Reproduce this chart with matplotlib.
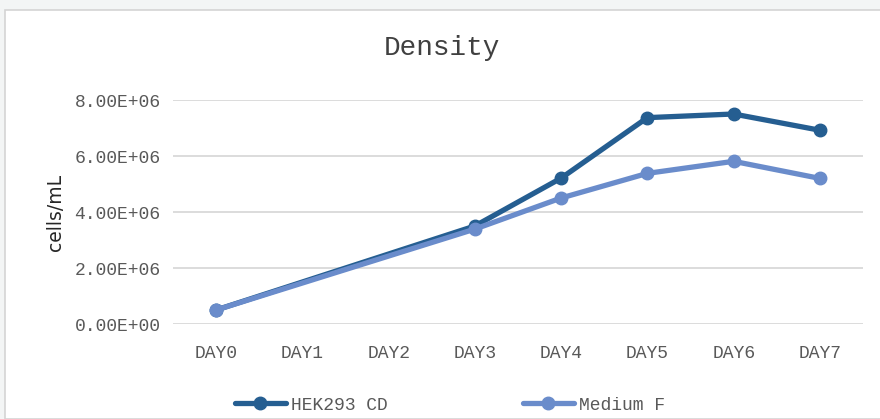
import matplotlib
matplotlib.use("Agg")
import matplotlib.pyplot as plt
from matplotlib.patches import Rectangle
import numpy as np

days = ["DAY0", "DAY1", "DAY2", "DAY3", "DAY4", "DAY5", "DAY6", "DAY7"]
hek293_cd = [0.5e6, None, None, 3.5e6, 5.21e6, 7.37e6, 7.5e6, 6.92e6]
medium_f = [0.5e6, None, None, 3.39e6, 4.5e6, 5.38e6, 5.81e6, 5.2e6]
yticks = [0, 2e6, 4e6, 6e6, 8e6]
ytick_labels = ["0.00E+00", "2.00E+06", "4.00E+06", "6.00E+06", "8.00E+06"]

W, H = 880, 419
fig = plt.figure(figsize=(W / 100, H / 100), dpi=100, facecolor="#f3f5f5")
bg = Rectangle((5 / W, 0), 1, (H - 10) / H, transform=fig.transFigure,
               facecolor="white", edgecolor="#d4d4d4", linewidth=1.2, zorder=-10)
fig.patches.append(bg)

ax = fig.add_axes([173 / W, (H - 324) / H, (863 - 173) / W, 224 / H])
ax.set_facecolor("none")
ax.set_zorder(5)

mono = "Liberation Mono"
dark = "#255e91"
light = "#6a8ccb"

def pts(vals):
    xs = [i for i, v in enumerate(vals) if v is not None]
    ys = [v for v in vals if v is not None]
    return xs, ys

x1, y1 = pts(hek293_cd)
x2, y2 = pts(medium_f)
ax.plot(x1, y1, color=dark, lw=3.8, marker="o", ms=9, label="HEK293 CD",
        solid_capstyle="round", zorder=3)
ax.plot(x2, y2, color=light, lw=3.8, marker="o", ms=9, label="Medium F",
        solid_capstyle="round", zorder=4)

ax.set_xlim(-0.5, len(days) - 0.5)
ax.set_ylim(0, 8e6)
ax.set_xticks(range(len(days)))
ax.set_xticklabels(days, family=mono, fontsize=13, color="#595959")
ax.set_yticks(yticks)
ax.set_yticklabels(ytick_labels, family=mono, fontsize=13, color="#595959")
ax.tick_params(length=0, pad=9)
ax.tick_params(axis="x", pad=15)
ax.grid(axis="y", color="#d9d9d9", lw=1.3)
ax.set_axisbelow(True)
for s in ax.spines.values():
    s.set_visible(False)

ax.set_ylabel("cells/mL", fontsize=13.5, color="#262626", va="center")
ax.yaxis.set_label_coords(-(173 - 55) / (863 - 173), 0.5)

fig.text(442 / W, 1 - 48 / H, "Density", family=mono, fontsize=20, color="#404040",
         ha="center", va="center")

leg = fig.legend(loc="center", bbox_to_anchor=(450 / W, 1 - 405 / H), ncol=2, frameon=False,
                 prop={"family": mono, "size": 13}, handlelength=2.8, handletextpad=0.3,
                 columnspacing=7.5, labelcolor="#595959")

fig.savefig("out.png", dpi=100, facecolor=fig.get_facecolor())
